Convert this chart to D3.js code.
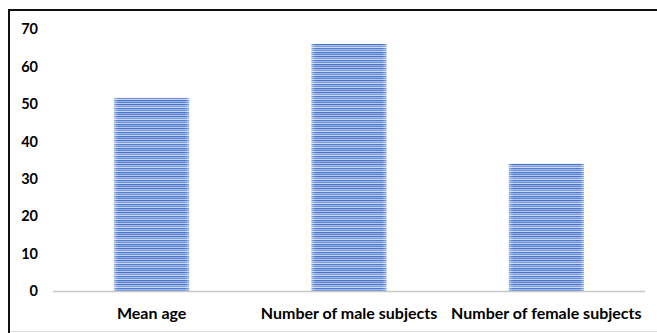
<!DOCTYPE html>
<html><head><meta charset="utf-8">
<script src="https://cdn.jsdelivr.net/npm/d3@7"></script>
<style>html,body{margin:0;padding:0;background:#fff;}</style>
</head><body>
<script>
const categories = ["Mean age", "Number of male subjects", "Number of female subjects"];
const values = [51.6, 66, 34];
const yTicks = [0, 10, 20, 30, 40, 50, 60, 70];

const W = 657, H = 333;
const svg = d3.select("body").append("svg").attr("width", W).attr("height", H);

// frame
svg.append("rect").attr("x", 0).attr("y", 0).attr("width", W).attr("height", H).attr("fill", "#fff");
svg.append("line").attr("x1", 9).attr("x2", 9).attr("y1", 9).attr("y2", 333).attr("stroke", "#111").attr("stroke-width", 2);
svg.append("line").attr("x1", 8).attr("x2", 657).attr("y1", 10).attr("y2", 10).attr("stroke", "#111").attr("stroke-width", 2);
svg.append("line").attr("x1", 10).attr("x2", 657).attr("y1", 331.5).attr("y2", 331.5).attr("stroke", "#ddd").attr("stroke-width", 1);

// stripe pattern
const defs = svg.append("defs");
const pat = defs.append("pattern").attr("id", "stripes").attr("patternUnits", "userSpaceOnUse")
  .attr("width", 8).attr("height", 12);
const stripeColors = ["#4f7bcf", "#9db6e6", "#6a8fd8", "#c3d3f1", "#4a76cc", "#8eaae2", "#5d84d3", "#b5c9ee", "#4572c8", "#a5bce8", "#7a9bdc", "#cbd9f3"];
stripeColors.forEach((c, i) => pat.append("rect").attr("x", 0).attr("y", i).attr("width", 8).attr("height", 1).attr("fill", c));
const grad = defs.append("linearGradient").attr("id", "edge").attr("x1", 0).attr("x2", 1).attr("y1", 0).attr("y2", 0);
grad.append("stop").attr("offset", 0).attr("stop-color", "#fff").attr("stop-opacity", 0.35);
grad.append("stop").attr("offset", 0.06).attr("stop-color", "#fff").attr("stop-opacity", 0);
grad.append("stop").attr("offset", 0.94).attr("stop-color", "#fff").attr("stop-opacity", 0);
grad.append("stop").attr("offset", 1).attr("stop-color", "#fff").attr("stop-opacity", 0.35);

const x = d3.scaleBand().domain(categories).range([53, 645]).paddingInner(0.62).paddingOuter(0.31);
const y = d3.scaleLinear().domain([0, 70]).range([291, 29]);

const font = "Lato, 'Open Sans', sans-serif";

// y labels
svg.append("g").selectAll("text").data(yTicks).join("text")
  .attr("x", 38).attr("y", d => y(d)).attr("dy", "0.36em")
  .attr("text-anchor", "end").attr("font-family", font).attr("font-weight", "bold")
  .attr("font-size", 14.5).attr("fill", "#000").text(d => d);

// bars
const bars = svg.append("g");
bars.selectAll("rect.b").data(values).join("rect").attr("class", "b")
  .attr("x", (d, i) => x(categories[i])).attr("width", x.bandwidth())
  .attr("y", d => y(d)).attr("height", d => y(0) - y(d))
  .attr("fill", "url(#stripes)");
bars.selectAll("rect.e").data(values).join("rect").attr("class", "e")
  .attr("x", (d, i) => x(categories[i])).attr("width", x.bandwidth())
  .attr("y", d => y(d)).attr("height", d => y(0) - y(d))
  .attr("fill", "url(#edge)");

// x axis line
svg.append("line").attr("x1", 53).attr("x2", 645).attr("y1", y(0) + 0.5).attr("y2", y(0) + 0.5)
  .attr("stroke", "#c8c8c8").attr("stroke-width", 1.5);

// x labels
svg.append("g").selectAll("text").data(categories).join("text")
  .attr("x", d => x(d) + x.bandwidth() / 2).attr("y", 319)
  .attr("text-anchor", "middle").attr("font-family", font).attr("font-weight", "bold")
  .attr("font-size", 16).attr("fill", "#000").text(d => d);
</script>
</body></html>
